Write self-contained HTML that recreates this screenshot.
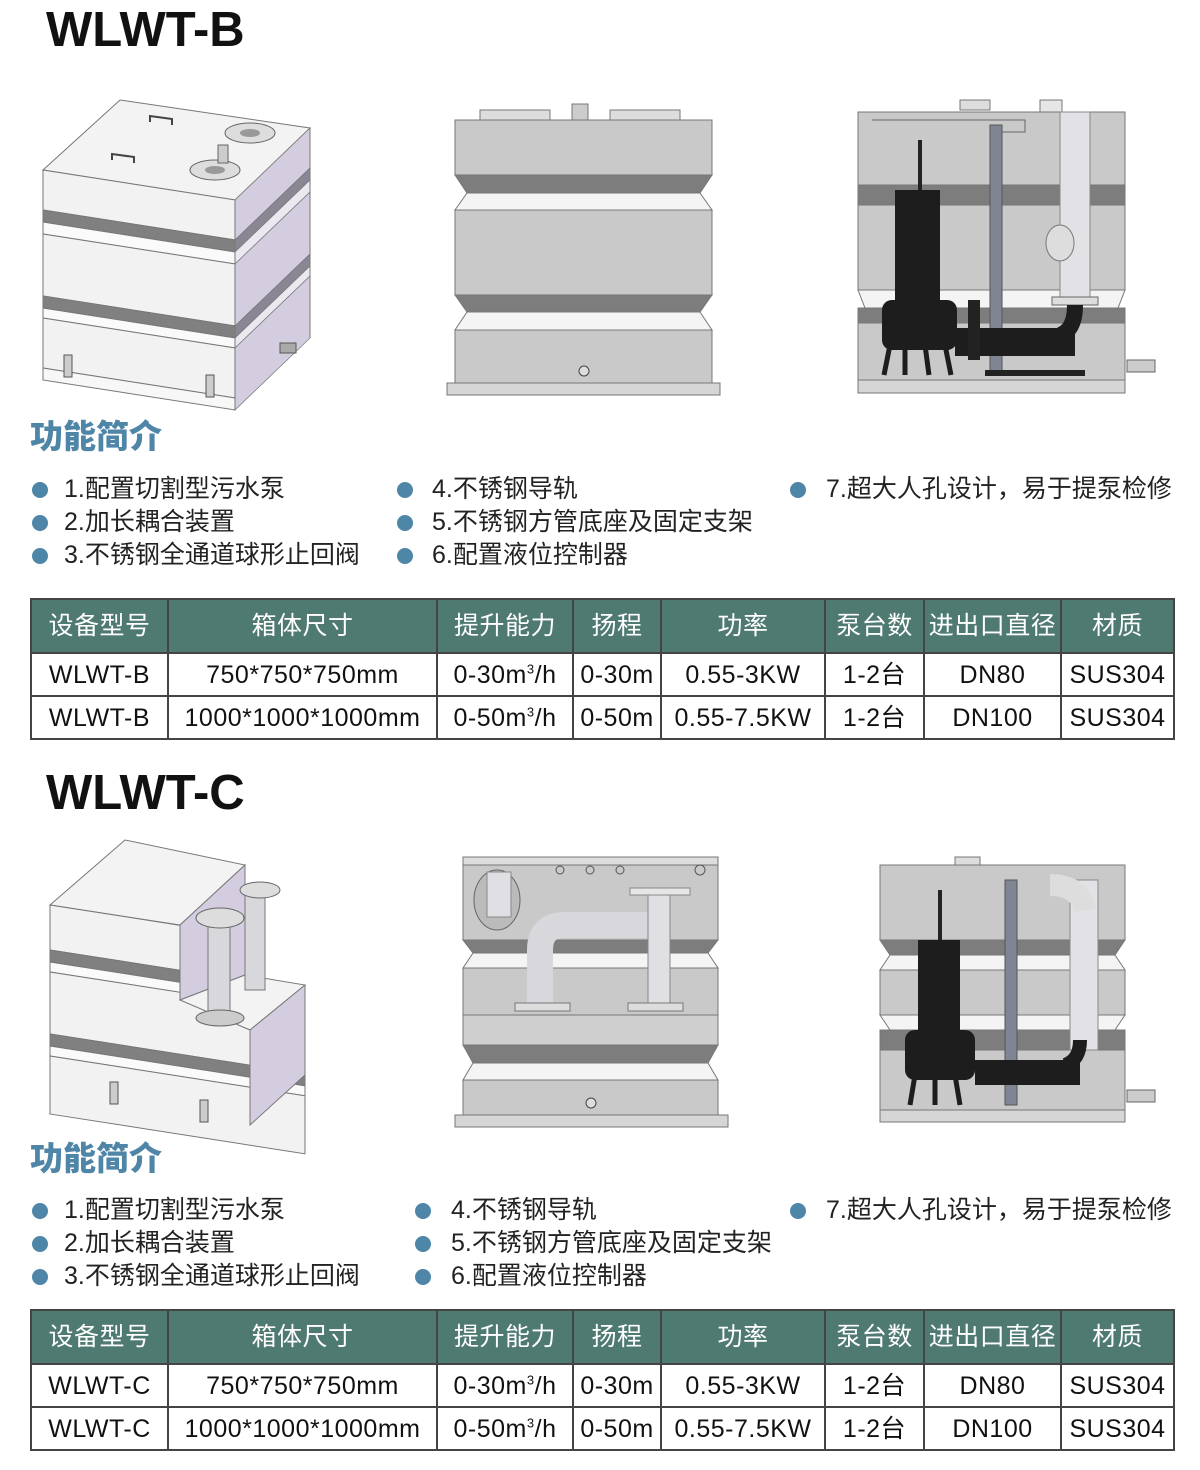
<!DOCTYPE html>
<html><head><meta charset="utf-8"><style>
body{margin:0;width:1200px;height:1470px;background:#fff;position:relative;overflow:hidden;font-family:"Liberation Sans","Noto Sans CJK SC",sans-serif;}
.t{position:absolute;font-weight:bold;font-size:49px;color:#111;left:46px;}
.h{position:absolute;left:30px;font-size:33px;font-weight:900;color:#4f86a8;font-family:"Noto Sans CJK SC",sans-serif;}
.li{position:absolute;font-size:25px;color:#222;white-space:nowrap;line-height:33px;}
.dot{position:absolute;width:16px;height:16px;border-radius:50%;background:#4e86a8;}
table{position:absolute;left:30px;border-collapse:collapse;width:1143px;table-layout:fixed;}
td{border:2px solid #444;text-align:center;font-size:25px;color:#111;padding:0;white-space:nowrap;line-height:30px;letter-spacing:0.5px;}
tr.hd td{background:#4f7a72;color:#fff;height:52px;border-color:#444;}
tr.r td{height:41px;}
sup{font-size:13px;line-height:0;}
svg{position:absolute;left:0;top:0}
</style></head><body>
<svg width="1200" height="1470" viewBox="0 0 1200 1470">
<polygon points="43,170 120,100 310,128 235,200" fill="#f3f3f3" stroke="#777" stroke-width="1"/>
<g transform="matrix(1,0.156,0,1,43,170)" stroke="#777" stroke-width="1">
<rect x="0" y="0" width="192" height="40" fill="#f2f2f2"/>
<rect x="0" y="40" width="192" height="12" fill="#808080"/>
<rect x="0" y="52" width="192" height="12" fill="#fafafa"/>
<rect x="0" y="64" width="192" height="62" fill="#f2f2f2"/>
<rect x="0" y="126" width="192" height="12" fill="#808080"/>
<rect x="0" y="138" width="192" height="10" fill="#fafafa"/>
<rect x="0" y="148" width="192" height="50" fill="#f2f2f2"/>
<rect x="0" y="198" width="192" height="12" fill="#f7f7f7"/>
</g>
<g transform="matrix(1,-0.96,0,1,235,200)" stroke="#777" stroke-width="1">
<rect x="0" y="0" width="75" height="40" fill="#d4cde0"/>
<rect x="0" y="40" width="75" height="12" fill="#8b8694"/>
<rect x="0" y="52" width="75" height="12" fill="#ebe8f0"/>
<rect x="0" y="64" width="75" height="62" fill="#d4cde0"/>
<rect x="0" y="126" width="75" height="12" fill="#8b8694"/>
<rect x="0" y="138" width="75" height="10" fill="#ebe8f0"/>
<rect x="0" y="148" width="75" height="62" fill="#d4cde0"/>
</g>
<ellipse cx="250" cy="133" rx="25" ry="10" fill="#ddd" stroke="#666"/><ellipse cx="250" cy="133" rx="10" ry="4" fill="#999"/>
<ellipse cx="215" cy="170" rx="25" ry="10" fill="#ddd" stroke="#666"/><ellipse cx="215" cy="170" rx="10" ry="4" fill="#999"/>
<rect x="218" y="145" width="10" height="18" fill="#ccc" stroke="#666"/>
<path d="M150 122 l0 -6 l22 3 l0 6 M112 160 l0 -6 l22 3 l0 6" stroke="#444" fill="none" stroke-width="2"/>
<rect x="64" y="355" width="8" height="22" fill="#ccc" stroke="#555"/><rect x="206" y="375" width="8" height="22" fill="#ccc" stroke="#555"/>
<rect x="280" y="343" width="16" height="10" fill="#aaa" stroke="#555"/>
<g stroke="#777" stroke-width="1">
<rect x="480" y="110" width="70" height="10" fill="#ddd"/><rect x="610" y="110" width="70" height="10" fill="#ddd"/><rect x="572" y="104" width="16" height="16" fill="#ccc"/>
<rect x="455" y="120" width="257" height="55" fill="#c9c9c9"/>
<polygon points="455,175 712,175 700,193 467,193" fill="#7d7d7d"/>
<polygon points="467,193 700,193 712,210 455,210" fill="#f4f4f4"/>
<rect x="455" y="210" width="257" height="85" fill="#c9c9c9"/>
<polygon points="455,295 712,295 700,312 467,312" fill="#7d7d7d"/>
<polygon points="467,312 700,312 712,330 455,330" fill="#f4f4f4"/>
<rect x="455" y="330" width="257" height="53" fill="#c9c9c9"/>
<rect x="447" y="383" width="273" height="12" fill="#d6d6d6"/>
</g>
<circle cx="584" cy="371" r="5" fill="#ddd" stroke="#444"/>
<g stroke="#777" stroke-width="1">
<rect x="960" y="100" width="30" height="10" fill="#ddd"/>
<rect x="858" y="112" width="267" height="73" fill="#c9c9c9"/>
<polygon points="858,185 1125,185 1125,205 858,205" fill="#7d7d7d"/>
<rect x="858" y="205" width="267" height="85" fill="#c9c9c9"/>
<polygon points="858,290 1125,290 1118,308 865,308" fill="#f4f4f4"/>
<rect x="858" y="308" width="267" height="15" fill="#7d7d7d"/>
<rect x="858" y="323" width="267" height="57" fill="#c9c9c9"/>
<rect x="858" y="380" width="267" height="13" fill="#d6d6d6"/>
</g>
<path d="M872 120 H1025 V132 H995" stroke="#666" fill="none"/>
<rect x="1040" y="100" width="22" height="12" fill="#e6e6e6" stroke="#777"/>
<rect x="1060" y="112" width="30" height="190" fill="#e2e2e6" stroke="#888"/>
<ellipse cx="1060" cy="243" rx="14" ry="18" fill="#ddd" stroke="#777"/>
<rect x="1052" y="297" width="46" height="8" fill="#ddd" stroke="#666"/>
<rect x="990" y="125" width="12" height="250" fill="#7f8592" stroke="#555"/>
<rect x="918" y="140" width="4" height="50" fill="#222"/>
<rect x="895" y="190" width="45" height="120" fill="#1d1d1d"/>
<rect x="882" y="300" width="75" height="50" rx="10" fill="#1d1d1d"/>
<path d="M890 345 l-6 30 M905 345 v30 M925 345 l4 30 M945 345 l6 30" stroke="#1d1d1d" stroke-width="5"/>
<rect x="955" y="328" width="120" height="28" fill="#1d1d1d"/>
<path d="M1060 335 q15 -5 15 -30" stroke="#1d1d1d" stroke-width="16" fill="none"/>
<rect x="968" y="300" width="12" height="60" fill="#222"/>
<rect x="985" y="370" width="100" height="6" fill="#222"/>
<rect x="1127" y="360" width="28" height="12" fill="#ccc" stroke="#666"/>
<polygon points="50,905 125,840 245,865 180,925" fill="#f3f3f3" stroke="#777"/>
<g transform="matrix(1,0.156,0,1,50,905)" stroke="#777" stroke-width="1">
<rect x="0" y="0" width="130" height="45" fill="#f2f2f2"/>
<rect x="0" y="45" width="130" height="12" fill="#808080"/>
<rect x="0" y="57" width="130" height="10" fill="#fafafa"/>
</g>
<g transform="matrix(1,0.156,0,1,50,972)" stroke="#777">
<rect x="0" y="0" width="255" height="62" fill="#f2f2f2"/>
<rect x="0" y="62" width="255" height="12" fill="#808080"/>
<rect x="0" y="74" width="255" height="10" fill="#fafafa"/>
<rect x="0" y="84" width="255" height="58" fill="#f2f2f2"/>
</g>
<polygon points="180,925 245,865 245,975 180,1000" fill="#d4cde0" stroke="#777"/>
<polygon points="180,1000 245,975 305,985 250,1030" fill="#f3f3f3" stroke="#777"/>
<polygon points="250,1030 305,985 305,1075 250,1125" fill="#d4cde0" stroke="#777"/>
<rect x="208" y="920" width="22" height="100" fill="#d8d8dc" stroke="#777"/>
<rect x="245" y="890" width="20" height="100" fill="#d8d8dc" stroke="#777"/>
<ellipse cx="220" cy="918" rx="24" ry="10" fill="#ddd" stroke="#666"/>
<ellipse cx="260" cy="890" rx="20" ry="8" fill="#ddd" stroke="#666"/>
<ellipse cx="220" cy="1018" rx="24" ry="8" fill="#ccc" stroke="#666"/>
<rect x="110" y="1082" width="8" height="22" fill="#ccc" stroke="#555"/><rect x="200" y="1100" width="8" height="22" fill="#ccc" stroke="#555"/>
<g stroke="#777" stroke-width="1">
<rect x="463" y="857" width="255" height="8" fill="#ddd"/>
<rect x="463" y="865" width="255" height="75" fill="#c9c9c9"/>
<polygon points="463,940 718,940 708,953 473,953" fill="#7d7d7d"/>
<polygon points="473,953 708,953 718,968 463,968" fill="#f4f4f4"/>
<rect x="463" y="968" width="255" height="47" fill="#c9c9c9"/>
<rect x="463" y="1015" width="255" height="30" fill="#cfcfcf"/>
<polygon points="463,1045 718,1045 708,1063 473,1063" fill="#7d7d7d"/>
<polygon points="473,1063 708,1063 718,1080 463,1080" fill="#f4f4f4"/>
<rect x="463" y="1080" width="255" height="35" fill="#c9c9c9"/>
<rect x="455" y="1115" width="273" height="12" fill="#d6d6d6"/>
</g>
<ellipse cx="497" cy="900" rx="23" ry="30" fill="#bbb" stroke="#666"/>
<rect x="487" y="872" width="24" height="45" fill="#e0e0e4" stroke="#888"/>
<path d="M540 1005 v-55 q0 -25 25 -25 h90" stroke="#d8d8dc" stroke-width="26" fill="none"/>
<rect x="648" y="890" width="22" height="115" fill="#e0e0e4" stroke="#888"/>
<rect x="630" y="888" width="60" height="7" fill="#e6e6e6" stroke="#888"/>
<rect x="515" y="1003" width="55" height="8" fill="#ddd" stroke="#777"/><rect x="628" y="1003" width="55" height="8" fill="#ddd" stroke="#777"/>
<circle cx="560" cy="870" r="4" fill="none" stroke="#555"/><circle cx="590" cy="870" r="4" fill="none" stroke="#555"/><circle cx="620" cy="870" r="4" fill="none" stroke="#555"/><circle cx="700" cy="870" r="5" fill="none" stroke="#555"/>
<circle cx="591" cy="1103" r="5" fill="#ddd" stroke="#444"/>
<g stroke="#777" stroke-width="1">
<rect x="955" y="857" width="25" height="8" fill="#ddd"/>
<rect x="880" y="865" width="245" height="75" fill="#c9c9c9"/>
<polygon points="880,940 1125,940 1115,955 890,955" fill="#7d7d7d"/>
<polygon points="890,955 1115,955 1125,970 880,970" fill="#f4f4f4"/>
<rect x="880" y="970" width="245" height="45" fill="#c9c9c9"/>
<polygon points="880,1015 1125,1015 1115,1030 890,1030" fill="#f4f4f4"/>
<rect x="880" y="1030" width="245" height="20" fill="#7d7d7d"/>
<rect x="880" y="1050" width="245" height="60" fill="#c9c9c9"/>
<rect x="880" y="1110" width="245" height="12" fill="#d6d6d6"/>
</g>
<rect x="1070" y="880" width="28" height="170" fill="#e2e2e6" stroke="#888"/>
<path d="M1050 885 q30 0 35 25" stroke="#ddd" stroke-width="22" fill="none"/>
<rect x="1005" y="880" width="12" height="225" fill="#7f8592" stroke="#555"/>
<rect x="938" y="890" width="4" height="50" fill="#222"/>
<rect x="918" y="940" width="42" height="100" fill="#1d1d1d"/>
<rect x="905" y="1030" width="70" height="50" rx="10" fill="#1d1d1d"/>
<path d="M915 1075 l-5 30 M935 1075 v30 M955 1075 l5 30" stroke="#1d1d1d" stroke-width="5"/>
<rect x="975" y="1060" width="105" height="25" fill="#1d1d1d"/>
<path d="M1065 1065 q15 -5 15 -25" stroke="#1d1d1d" stroke-width="14" fill="none"/>
<rect x="1127" y="1090" width="28" height="12" fill="#ccc" stroke="#666"/>
</svg>

<div class="t" style="top:2px">WLWT-B</div>
<div class="h" style="top:410px">功能简介</div>
<div class="dot" style="left:32px;top:482px"></div><div class="dot" style="left:32px;top:515px"></div><div class="dot" style="left:32px;top:548px"></div>
<div class="dot" style="left:397px;top:482px"></div><div class="dot" style="left:397px;top:515px"></div><div class="dot" style="left:397px;top:548px"></div>
<div class="dot" style="left:790px;top:482px"></div>
<div class="li" style="left:64px;top:473px">1.配置切割型污水泵<br>2.加长耦合装置<br>3.不锈钢全通道球形止回阀</div>
<div class="li" style="left:432px;top:473px">4.不锈钢导轨<br>5.不锈钢方管底座及固定支架<br>6.配置液位控制器</div>
<div class="li" style="left:826px;top:473px">7.超大人孔设计，易于提泵检修</div>
<table style="top:598px">
<colgroup><col style="width:137px"><col style="width:269px"><col style="width:136px"><col style="width:88px"><col style="width:164px"><col style="width:99px"><col style="width:137px"><col style="width:113px"></colgroup>
<tr class="hd"><td>设备型号</td><td>箱体尺寸</td><td>提升能力</td><td>扬程</td><td>功率</td><td>泵台数</td><td>进出口直径</td><td>材质</td></tr>
<tr class="r"><td>WLWT-B</td><td>750*750*750mm</td><td>0-30m<sup>3</sup>/h</td><td>0-30m</td><td>0.55-3KW</td><td>1-2台</td><td>DN80</td><td>SUS304</td></tr>
<tr class="r"><td>WLWT-B</td><td>1000*1000*1000mm</td><td>0-50m<sup>3</sup>/h</td><td>0-50m</td><td>0.55-7.5KW</td><td>1-2台</td><td>DN100</td><td>SUS304</td></tr>
</table>

<div class="t" style="top:765px">WLWT-C</div>
<div class="h" style="top:1132px">功能简介</div>
<div class="dot" style="left:32px;top:1203px"></div><div class="dot" style="left:32px;top:1236px"></div><div class="dot" style="left:32px;top:1269px"></div>
<div class="dot" style="left:415px;top:1203px"></div><div class="dot" style="left:415px;top:1236px"></div><div class="dot" style="left:415px;top:1269px"></div>
<div class="dot" style="left:790px;top:1203px"></div>
<div class="li" style="left:64px;top:1194px">1.配置切割型污水泵<br>2.加长耦合装置<br>3.不锈钢全通道球形止回阀</div>
<div class="li" style="left:451px;top:1194px">4.不锈钢导轨<br>5.不锈钢方管底座及固定支架<br>6.配置液位控制器</div>
<div class="li" style="left:826px;top:1194px">7.超大人孔设计，易于提泵检修</div>
<table style="top:1309px">
<colgroup><col style="width:137px"><col style="width:269px"><col style="width:136px"><col style="width:88px"><col style="width:164px"><col style="width:99px"><col style="width:137px"><col style="width:113px"></colgroup>
<tr class="hd"><td>设备型号</td><td>箱体尺寸</td><td>提升能力</td><td>扬程</td><td>功率</td><td>泵台数</td><td>进出口直径</td><td>材质</td></tr>
<tr class="r"><td>WLWT-C</td><td>750*750*750mm</td><td>0-30m<sup>3</sup>/h</td><td>0-30m</td><td>0.55-3KW</td><td>1-2台</td><td>DN80</td><td>SUS304</td></tr>
<tr class="r"><td>WLWT-C</td><td>1000*1000*1000mm</td><td>0-50m<sup>3</sup>/h</td><td>0-50m</td><td>0.55-7.5KW</td><td>1-2台</td><td>DN100</td><td>SUS304</td></tr>
</table>
</body></html>
